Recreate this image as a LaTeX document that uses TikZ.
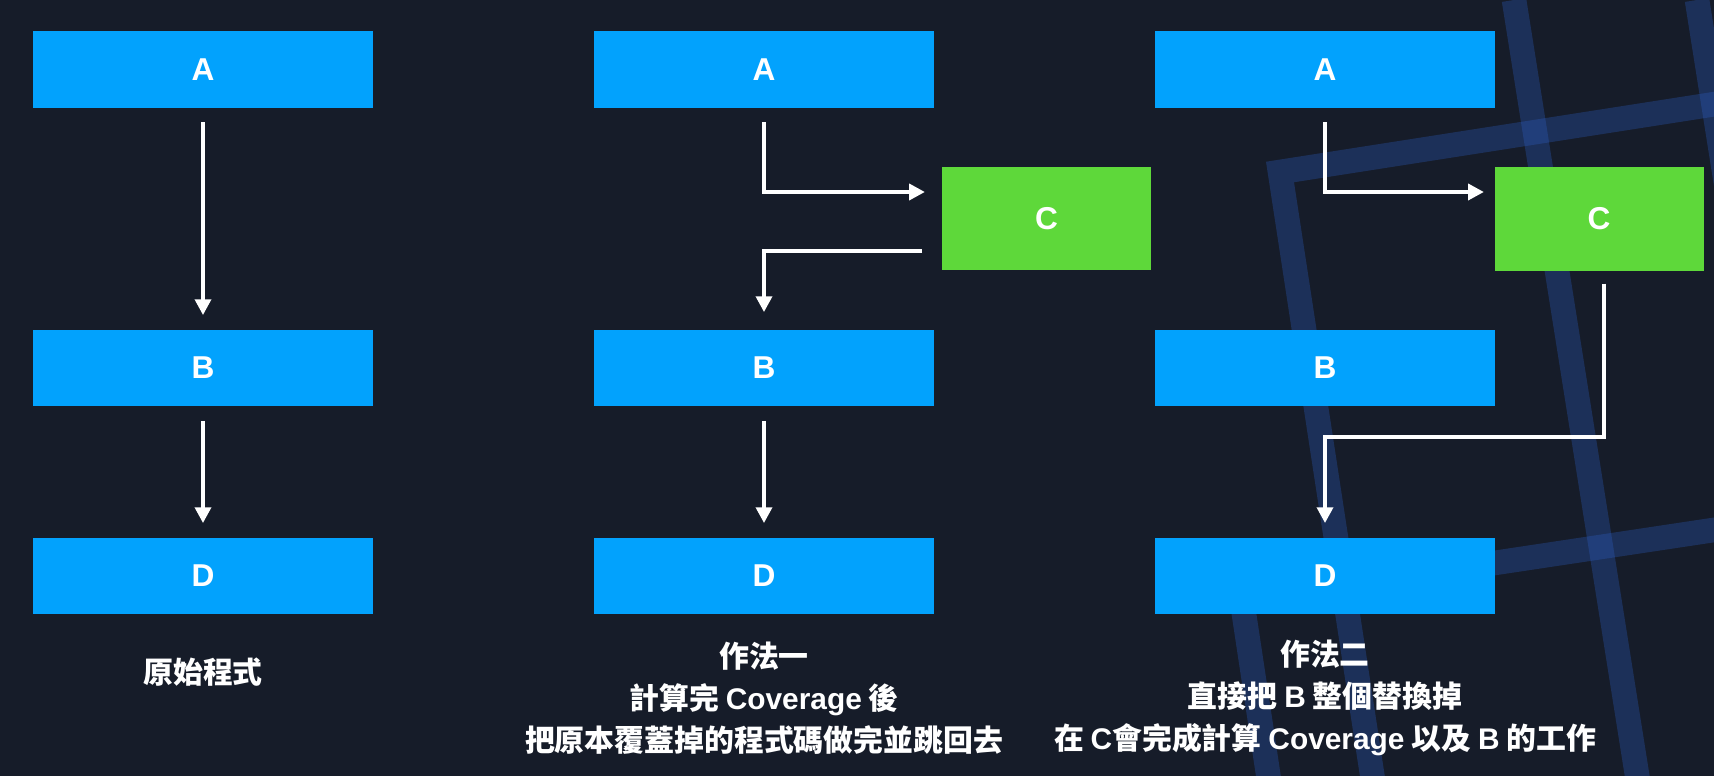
\documentclass[tikz,border=0pt]{standalone}
\usepackage{fontspec}
\newfontfamily\cjk{Noto Sans CJK TC}
\newfontfamily\heros{Liberation Sans}
\newcommand\lat[1]{{\heros\bfseries #1}}
\usepackage{tikz}
\usetikzlibrary{arrows.meta}
\definecolor{bgnavy}{RGB}{22,28,41}
\definecolor{boxblue}{RGB}{2,162,253}
\definecolor{boxgreen}{RGB}{94,216,58}
\definecolor{stripeblue}{RGB}{45,95,200}

\begin{document}
\begin{tikzpicture}[x=0.02cm, y=-0.02cm,
  box/.style={rectangle, fill=boxblue, minimum width=6.8cm, minimum height=1.54cm, inner sep=0pt, text=white, font=\heros\bfseries\fontsize{18}{20}\selectfont},
  cbox/.style={box, fill=boxgreen, minimum width=4.18cm, minimum height=2.08cm},
  note/.style={align=center, text=white, font=\cjk\bfseries\fontsize{17}{24}\selectfont},
  flow/.style={draw=white, line width=2.3pt, -{Triangle[width=9pt, length=9pt]}, shorten <=8pt, shorten >=8pt},
  stripe/.style={draw=stripeblue, line width=14pt, opacity=.3, line join=miter}]
  \fill[bgnavy] (0,0) rectangle (1714,776);
  \begin{scope}
    \clip (0,0) rectangle (1714,776);
    \draw[stripe] (1760,97) -- (1280,172) -- (1376,800);
    \draw[stripe] (1514,0) -- (1641,800);
    \draw[stripe] (1697,0) -- (1780,525);
    \draw[stripe] (1760,523) -- (1242,601) -- (1272,800);
  \end{scope}
  \node (a1) [box] at (203,69.5) {A};
  \node (b1) [box] at (203,368) {B};
  \node (d1) [box] at (203,576) {D};
  \node (a2) [box] at (764,69.5) {A};
  \node (c2) [cbox] at (1046.5,218.5) {C};
  \node (b2) [box] at (764,368) {B};
  \node (d2) [box] at (764,576) {D};
  \node (a3) [box] at (1325,69.5) {A};
  \node (c3) [cbox] at (1599,219) {C};
  \node (b3) [box] at (1325,368) {B};
  \node (d3) [box] at (1325,576) {D};
  \coordinate (c2in) at (942,192);
  \coordinate (c2out) at (922,251);
  \coordinate (c3in) at (1495,192);
  \coordinate (turn3) at (1604,437);
  \draw[flow] (a1) -- (b1);
  \draw[flow] (b1) -- (d1);
  \draw[flow, shorten >=9.7pt] (a2.south) |- (c2in);
  \draw[flow, shorten <=0pt, shorten >=9.7pt] (c2out) -| (b2.north);
  \draw[flow] (b2) -- (d2);
  \draw[flow, shorten >=6.3pt] (a3.south) |- (c3in);
  \draw[flow, shorten <=7pt] (c3.south -| turn3) -- (turn3) -| (d3.north);
  \node (t1) [note] at (203,672) {原始程式};
  \node (t2) [note] at (764,698) {作法一\\計算完 \lat{Coverage} 後\\把原本覆蓋掉的程式碼做完並跳回去};
  \node (t3) [note] at (1325,698) {作法二\\直接把 \lat{B} 整個替換掉\\在 \lat{C}會完成計算 \lat{Coverage} 以及 \lat{B} 的工作};
\end{tikzpicture}
\end{document}
